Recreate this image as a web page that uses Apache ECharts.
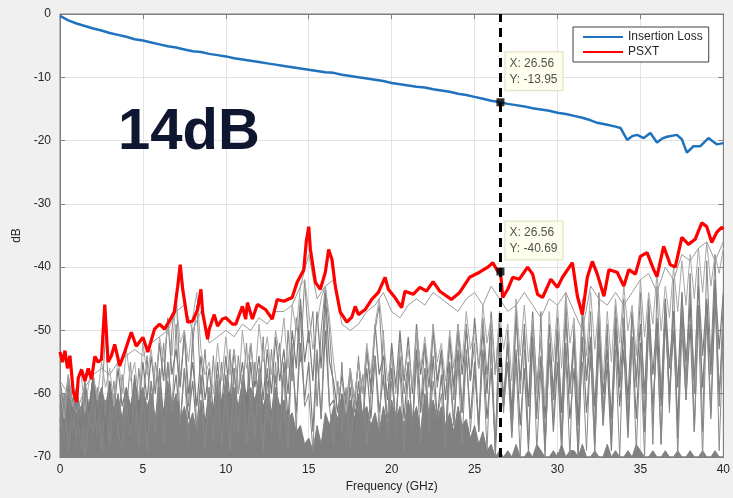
<!DOCTYPE html>
<html>
<head>
<meta charset="utf-8">
<script src="https://cdn.jsdelivr.net/npm/echarts@6/dist/echarts.min.js"></script>
<style>
  html, body { margin: 0; padding: 0; background: #f0f0f0; }
  #main { width: 733px; height: 498px; }
</style>
</head>
<body>
<div id="main"></div>
<script>
// sample spacing of the gray crosstalk traces (GHz)
var freqStep = 0.25;
var upperStep = 0.5;

var insertionLoss = [
  [0,-0.3],[0.5,-1.0],[1,-1.5],[1.5,-1.9],[2,-2.3],[2.5,-2.6],[3,-3.0],[3.5,-3.3],[4,-3.6],[4.5,-4.0],
  [5,-4.2],[5.5,-4.5],[6,-4.8],[6.5,-5.1],[7,-5.3],[7.5,-5.6],[8,-5.9],[8.5,-6.0],[9,-6.3],[9.5,-6.5],
  [10,-6.7],[10.5,-7.0],[11,-7.2],[11.5,-7.4],[12,-7.6],[12.5,-7.8],[13,-8.0],[13.5,-8.2],[14,-8.4],[14.5,-8.6],
  [15,-8.8],[15.5,-9.0],[16,-9.2],[16.5,-9.3],[17,-9.6],[17.5,-9.8],[18,-10.0],[18.5,-10.2],[19,-10.4],[19.5,-10.6],
  [20,-10.9],[20.5,-11.1],[21,-11.3],[21.5,-11.5],[22,-11.6],[22.5,-11.9],[23,-12.1],[23.5,-12.3],[24,-12.6],[24.5,-12.8],
  [25,-13.1],[25.5,-13.4],[26,-13.7],[26.56,-13.95],[27,-14.2],[27.5,-14.4],[28,-14.6],[28.5,-14.9],[29,-15.1],[29.5,-15.3],
  [30,-15.6],[30.5,-15.8],[31,-16.1],[31.5,-16.4],[32,-16.8],[32.4,-17.2],[33,-17.5],[33.5,-17.8],[33.8,-18.0],[34.2,-19.9],
  [34.5,-19.3],[34.8,-19.1],[35.2,-19.6],[35.6,-18.8],[36.0,-20.3],[36.3,-19.7],[36.6,-19.4],[37.2,-19.1],[37.5,-19.8],[37.8,-21.9],
  [38.2,-20.9],[38.6,-20.9],[39.1,-19.6],[39.6,-20.6],[40,-20.4]
];

var psxt = [
  [0,-53.4],[0.15,-55],[0.3,-53.2],[0.45,-56],[0.6,-54],[0.8,-59.7],[1.0,-61.3],[1.1,-57.5],[1.3,-56.2],[1.5,-58],
  [1.7,-56],[1.9,-57.7],[2.1,-54.1],[2.3,-55],[2.5,-54.6],[2.7,-45.9],[2.9,-55],[3.1,-54],[3.3,-52.2],[3.6,-55.6],
  [3.9,-53.4],[4.3,-50.3],[4.6,-52.5],[5.0,-51.1],[5.3,-53.4],[5.7,-49.8],[6.0,-49],[6.3,-49.8],[6.6,-48.5],[6.9,-47],
  [7.1,-43],[7.25,-39.6],[7.4,-43.5],[7.7,-48.7],[8.0,-48.5],[8.3,-46.7],[8.5,-43.5],[8.6,-47.1],[8.9,-51.4],[9.0,-49.8],
  [9.3,-47.5],[9.5,-49.3],[9.8,-48.2],[10.0,-48],[10.4,-49],[10.6,-49],[11.0,-46.2],[11.2,-48.2],[11.3,-45.6],[11.6,-48.2],
  [11.9,-45.9],[12.4,-46.7],[12.8,-48.2],[13.1,-45.1],[13.5,-45.4],[14.0,-44.8],[14.3,-42.4],[14.7,-40.4],[14.85,-36],[15.0,-33.6],
  [15.1,-37.2],[15.4,-42.4],[15.7,-43.5],[16.0,-40.8],[16.2,-37.2],[16.4,-38.8],[16.6,-43],[16.9,-47.1],[17.3,-48.7],[17.6,-47.9],
  [17.8,-46.2],[18.0,-47.5],[18.4,-46.7],[18.8,-45.1],[19.2,-44],[19.6,-41.6],[19.8,-43.5],[20.2,-44.8],[20.6,-46.4],[20.8,-43.8],
  [21.3,-44.3],[21.7,-43.2],[22.1,-43.8],[22.5,-42.3],[22.9,-43.8],[23.6,-45.1],[24.1,-44],[24.7,-41.6],[25.3,-40.8],[25.8,-40],
  [26.1,-39.3],[26.4,-40.7],[26.56,-40.69],[26.7,-44.8],[27.0,-43.5],[27.3,-41.6],[27.7,-41.9],[28.2,-40],[28.5,-41.1],[28.8,-44.3],
  [29.1,-44.8],[29.6,-41.9],[30.0,-43.2],[30.3,-41.6],[30.9,-39.3],[31.2,-44.6],[31.5,-47.5],[31.8,-41.6],[32.1,-39.1],[32.4,-41.1],
  [32.8,-44.6],[33.1,-40.4],[33.6,-40.8],[34.0,-43],[34.3,-40.4],[34.7,-41.1],[35.0,-38.3],[35.4,-37.7],[35.8,-40.4],[36.0,-41.5],
  [36.4,-36.7],[36.8,-39.6],[37.1,-40],[37.5,-35.3],[37.9,-36.4],[38.3,-35.6],[38.7,-33],[39.0,-33.6],[39.3,-36.1],[39.6,-34.5],
  [39.9,-33.7],[40,-34]
];

// dense gray noise floor (filled down to -70)
var grayFloor = [
  -58,-62,-57,-61, -59,-63,-58,-62, -57,-61,-59,-62, -58,-63,-60,-64, -59,-62,-58,-61,
  -59,-62,-60,-64, -59,-63,-58,-62, -60,-64,-62,-65, -63,-66,-61,-65, -60,-63,-59,-62,
  -58,-61,-59,-62, -58,-60,-59,-61, -58,-62,-60,-63, -59,-62,-61,-64, -63,-66,-65,-68,
  -67,-69,-65,-68, -63,-65,-62,-64, -60,-63,-61,-64, -60,-63,-62,-65, -63,-66,-62,-65,
  -61,-64,-62,-65, -61,-64,-62,-66, -60,-63,-61,-64, -62,-65,-63,-66, -62,-65,-64,-67,
  -65,-68,-66,-69, -68,-70,-69,-70, -69,-70,-68,-70, -70,-69,-70,-68, -69,-70,-70,-69,
  -70,-68,-70,-69, -69,-70,-68,-70, -70,-69,-70,-70, -68,-70,-69,-70, -70,-69,-70,-68,
  -69,-70,-70,-69, -70,-70,-69,-70, -70,-69,-70,-70, -69,-70,-70,-69, -70,-70,-69,-70,
  -70
];

var grayUpper = [
  -58,-60,-63,-59,-57,-56,-57,-55,-54,-53,-54,-52,-51,-50,-47,-46,-50,-47,-52,-51,
  -50,-51,-49,-50,-48,-49,-47,-47,-46,-43,-38,-45,-43,-42,-49,-50,-49,-47,-46,-44,
  -47,-48,-46,-45,-46,-44,-45,-46,-47,-45,-44,-46,-43,-45,-47,-46,-44,-46,-48,-45,
  -46,-44,-47,-50,-43,-45,-46,-44,-46,-44,-42,-41,-44,-40,-42,-38,-39,-37,-36,-39,
  -36
];

var grayB = [
  -62,-68,-58,-66, -61,-69,-59,-65, -60,-67,-62,-50, -64,-58,-67,-57, -63,-55,-66,-56,
  -62,-54,-65,-55, -60,-52,-63,-50, -44,-58,-51,-62, -52,-46,-60,-53, -64,-54,-66,-55,
  -62,-53,-67,-54, -60,-52,-66,-55, -63,-51,-64,-53, -61,-52,-65,-50, -58,-48,-55,-42,
  -52,-47,-62,-50, -43,-50,-60,-66, -55,-68,-57,-63, -54,-66,-53,-60, -50,-46,-58,-64,
  -53,-67,-51,-60, -55,-66,-50,-62, -52,-65,-49,-59, -54,-68,-51,-61, -50,-63,-49,-58,
  -52,-66,-48,-57, -50,-69,-47,-62, -52,-66,-46,-60, -49,-68,-51,-64, -47,-69,-53,-61,
  -48,-67,-45,-60, -50,-70,-46,-58, -47,-66,-44,-63, -49,-68,-46,-57, -45,-66,-47,-59,
  -44,-63,-45,-68, -43,-60,-46,-62, -42,-67,-44,-58, -41,-60,-40,-66, -39,-55,-38,-62,
  -45
];

var grayC = [
  -66,-60,-69,-63, -67,-62,-70,-64, -66,-59,-69,-61, -68,-60,-66,-69, -61,-67,-59,-68,
  -60,-69,-58,-66, -57,-68,-55,-63, -49,-65,-56,-68, -50,-66,-58,-69, -59,-67,-57,-68,
  -58,-69,-56,-66, -57,-68,-60,-67, -56,-69,-58,-66, -55,-67,-57,-69, -52,-66,-47,-62,
  -60,-69,-54,-64, -46,-62,-68,-58, -66,-59,-69,-61, -63,-57,-68,-60, -54,-66,-50,-67,
  -58,-64,-56,-69, -57,-65,-55,-68, -56,-66,-58,-64, -60,-69,-57,-65, -55,-68,-53,-66,
  -57,-64,-54,-69, -52,-70,-56,-63, -50,-66,-55,-70, -53,-62,-49,-69, -56,-70,-52,-64,
  -51,-68,-54,-70, -49,-64,-55,-69, -52,-70,-48,-65, -50,-67,-53,-70, -48,-64,-51,-69,
  -53,-70,-47,-65, -49,-68,-45,-63, -47,-70,-50,-61, -44,-66,-48,-70, -46,-63,-42,-69,
  -50
];

var grayD = [
  -59,-64,-57,-62, -60,-56,-63,-58, -57,-61,-55,-59, -56,-62,-54,-60, -53,-58,-55,-61,
  -52,-57,-53,-59, -51,-55,-49,-54, -45,-52,-50,-55, -48,-44,-53,-57, -55,-60,-52,-58,
  -51,-57,-53,-60, -50,-56,-52,-58, -49,-55,-51,-57, -50,-54,-48,-56, -46,-50,-43,-42,
  -47,-53,-49,-45, -43,-48,-55,-60, -58,-63,-56,-61, -55,-60,-52,-57, -49,-45,-51,-58,
  -54,-60,-52,-57, -53,-59,-50,-56, -51,-57,-49,-55, -52,-58,-50,-56, -49,-55,-47,-53,
  -50,-56,-46,-52, -48,-57,-47,-53, -49,-58,-45,-54, -46,-55,-48,-60, -51,-62,-47,-55,
  -46,-56,-44,-52, -48,-61,-45,-54, -44,-53,-46,-58, -47,-55,-45,-52, -43,-50,-46,-54,
  -42,-51,-44,-49, -41,-50,-43,-48, -40,-47,-39,-46, -38,-45,-37,-44, -36,-43,-38,-41,
  -37
];

var grayE = [
  -60,-65,-58,-64, -61,-66,-59,-63, -57,-64,-60,-66, -58,-63,-56,-62, -59,-65,-57,-63,
  -55,-61,-54,-60, -52,-58,-48,-57, -53,-59,-50,-60, -55,-62,-54,-61, -56,-63,-55,-62,
  -54,-61,-53,-60, -55,-62,-52,-59, -54,-61,-53,-60, -51,-58,-53,-60, -50,-56,-45,-55,
  -50,-58,-47,-56, -44,-55,-58,-63, -57,-62,-56,-61, -55,-60,-53,-59, -49,-57,-54,-61,
  -52,-59,-50,-58, -51,-60,-49,-57, -52,-59,-50,-58, -53,-61,-51,-59, -49,-57,-50,-58,
  -48,-56,-50,-60, -47,-57,-49,-61, -52,-63,-48,-58, -50,-62,-47,-59, -51,-64,-49,-60,
  -50,-63,-48,-59, -52,-65,-47,-58, -51,-62,-49,-60, -53,-64,-48,-59, -50,-61,-47,-58,
  -49,-60,-46,-57, -48,-62,-45,-56, -47,-59,-44,-55, -46,-58,-43,-54, -45,-57,-42,-53,
  -44
];

var grayF = [
  -64,-69,-62,-68, -63,-70,-61,-67, -64,-69,-62,-68, -60,-67,-63,-69, -61,-68,-62,-67,
  -60,-66,-58,-65, -56,-64,-55,-62, -57,-65,-56,-64, -58,-66,-57,-65, -59,-67,-58,-66,
  -57,-65,-56,-64, -58,-66,-55,-63, -57,-65,-56,-64, -57,-66,-55,-64, -54,-63,-52,-61,
  -55,-66,-53,-64, -50,-62,-61,-68, -60,-67,-59,-66, -58,-65,-56,-64, -54,-63,-57,-66,
  -56,-65,-54,-64, -55,-66,-53,-63, -56,-66,-54,-64, -57,-67,-55,-65, -53,-63,-54,-64,
  -55,-66,-53,-64, -56,-68,-52,-62, -55,-67,-53,-65, -56,-69,-52,-63, -54,-68,-53,-66,
  -55,-69,-52,-64, -56,-70,-51,-63, -54,-68,-52,-65, -55,-69,-50,-62, -53,-67,-51,-64,
  -52,-66,-49,-62, -51,-68,-48,-60, -50,-65,-47,-61, -49,-66,-46,-59, -48,-64,-45,-60,
  -50
];

var dataTips = [[26.56, -13.95], [26.56, -40.69]];

function stepped(arr, step) {
  return arr.map(function (v, i) { return [i * step, v]; });
}

var chart = echarts.init(document.getElementById('main'), null, { renderer: 'canvas' });

var axisColor = '#7f7f7f';
var labelColor = '#262626';
var fontFam = '"Liberation Sans", Arial, Helvetica, sans-serif';

function grayLine(name, arr, step, color, width) {
  return {
    name: name,
    type: 'line',
    data: stepped(arr, step),
    symbol: 'none',
    silent: true,
    lineStyle: { color: color, width: width },
    z: 2
  };
}

var option = {
  backgroundColor: '#f0f0f0',
  animation: false,
  textStyle: { fontFamily: fontFam },
  grid: {
    left: 60, right: 9, top: 14, bottom: 40,
    show: true,
    backgroundColor: '#ffffff',
    borderColor: axisColor,
    borderWidth: 1
  },
  legend: {
    data: ['Insertion Loss', 'PSXT'],
    orient: 'vertical',
    left: 573,
    top: 27,
    backgroundColor: '#ffffff',
    borderColor: '#404040',
    borderWidth: 1,
    padding: [4, 6, 4, 10],
    itemGap: 3,
    itemWidth: 40,
    itemHeight: 2,
    icon: 'rect',
    textStyle: { fontSize: 12, color: '#262626', fontFamily: fontFam }
  },
  xAxis: [{
    type: 'value',
    min: 0, max: 40, interval: 5,
    name: 'Frequency (GHz)',
    nameLocation: 'middle',
    nameGap: 24,
    nameTextStyle: { fontSize: 12, color: labelColor },
    axisLine: { show: true, onZero: false, lineStyle: { color: axisColor } },
    axisTick: { show: true, inside: true, length: 5, lineStyle: { color: axisColor } },
    axisLabel: { fontSize: 12, color: labelColor, margin: 7 },
    splitLine: { show: true, lineStyle: { color: '#e3e3e3', width: 1 } }
  }, {
    type: 'value',
    position: 'top',
    min: 0, max: 40, interval: 5,
    axisLine: { show: true, onZero: false, lineStyle: { color: axisColor } },
    axisTick: { show: true, inside: true, length: 5, lineStyle: { color: axisColor } },
    axisLabel: { show: false },
    splitLine: { show: false }
  }],
  yAxis: [{
    type: 'value',
    min: -70, max: 0, interval: 10,
    name: 'dB',
    nameLocation: 'middle',
    nameGap: 36,
    nameRotate: 90,
    nameTextStyle: { fontSize: 12, color: labelColor },
    axisLine: { show: true, onZero: false, lineStyle: { color: axisColor } },
    axisTick: { show: true, inside: true, length: 5, lineStyle: { color: axisColor } },
    axisLabel: { fontSize: 12, color: labelColor, margin: 9 },
    splitLine: { show: true, lineStyle: { color: '#e3e3e3', width: 1 } }
  }, {
    type: 'value',
    position: 'right',
    min: -70, max: 0, interval: 10,
    axisLine: { show: true, onZero: false, lineStyle: { color: axisColor } },
    axisTick: { show: true, inside: true, length: 5, lineStyle: { color: axisColor } },
    axisLabel: { show: false },
    splitLine: { show: false }
  }],
  series: [
    {
      name: 'floor',
      type: 'line',
      data: stepped(grayFloor, freqStep),
      symbol: 'none',
      silent: true,
      lineStyle: { color: '#808080', width: 1 },
      areaStyle: { color: '#808080', opacity: 1, origin: 'start' },
      z: 1
    },
    grayLine('xtF', grayF, freqStep, '#7c7c7c', 1.2),
    grayLine('xtC', grayC, freqStep, '#8a8a8a', 1),
    grayLine('xtE', grayE, freqStep, '#7a7a7a', 1.2),
    grayLine('xtB', grayB, freqStep, '#858585', 1),
    grayLine('xtD', grayD, freqStep, '#a8a8a8', 1),
    grayLine('xtUpper', grayUpper, upperStep, '#9c9c9c', 1),
    {
      name: 'PSXT',
      type: 'line',
      data: psxt,
      symbol: 'none',
      lineStyle: { color: '#ff0000', width: 3.2 },
      itemStyle: { color: '#ff0000' },
      z: 4
    },
    {
      name: 'Insertion Loss',
      type: 'line',
      data: insertionLoss,
      symbol: 'none',
      lineStyle: { color: '#1f72bd', width: 2.5 },
      itemStyle: { color: '#1f72bd' },
      z: 5
    },
    {
      name: 'tips',
      type: 'scatter',
      data: dataTips,
      symbol: 'rect',
      symbolSize: 8,
      itemStyle: { color: '#000000' },
      z: 7,
      label: {
        show: true,
        position: [9, -46],
        align: 'left',
        formatter: function (p) {
          return 'X: ' + p.value[0].toFixed(2) + '\nY: ' + p.value[1].toFixed(2);
        },
        fontSize: 12,
        lineHeight: 16,
        color: '#262626',
        backgroundColor: '#ffffe8',
        borderColor: '#d8d8b8',
        borderWidth: 1,
        padding: [3, 5, 3, 4]
      },
      markLine: {
        silent: true,
        symbol: ['none', 'none'],
        label: { show: false },
        lineStyle: { color: '#000000', width: 3, type: [9, 6] },
        data: [{ xAxis: 26.56 }],
        z: 6
      }
    }
  ],
  graphic: [{
    type: 'text',
    left: 118,
    top: 104,
    silent: true,
    style: {
      text: '14dB',
      font: 'bold 58px "Liberation Sans", Arial, sans-serif',
      fill: '#0e1630'
    },
    z: 10
  }]
};

chart.setOption(option);
</script>
</body>
</html>
